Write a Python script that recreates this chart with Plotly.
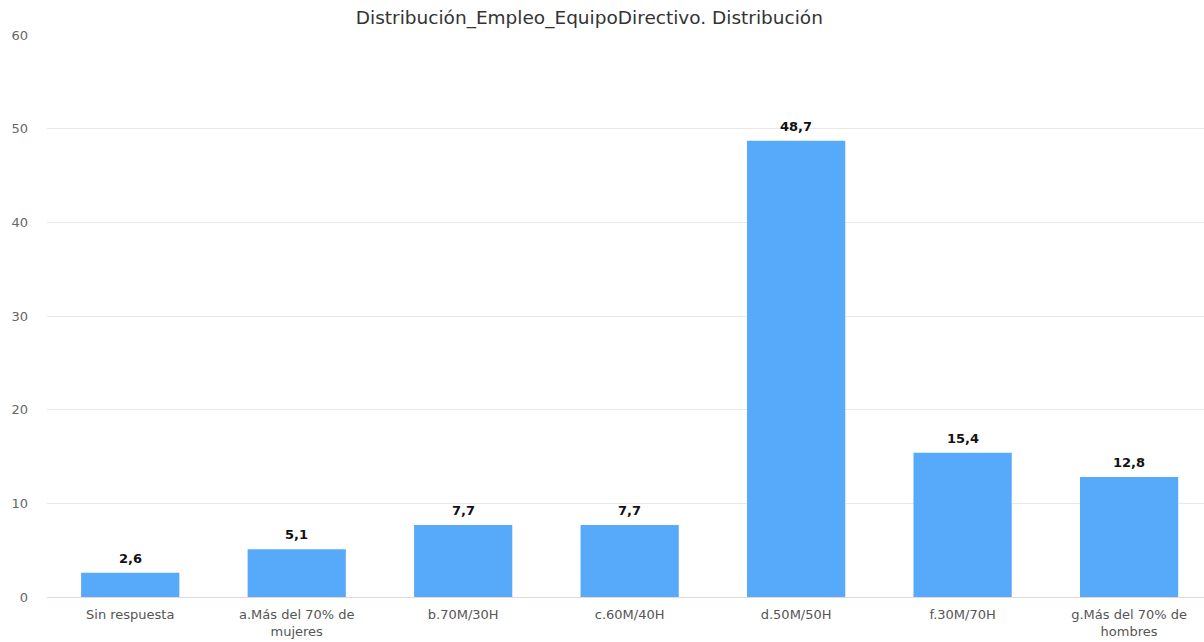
import plotly.graph_objects as go

categories = [
    "Sin respuesta",
    "a.Más del 70% de<br>mujeres",
    "b.70M/30H",
    "c.60M/40H",
    "d.50M/50H",
    "f.30M/70H",
    "g.Más del 70% de<br>hombres",
]
values = [2.6, 5.1, 7.7, 7.7, 48.7, 15.4, 12.8]
value_labels = [f"{v:.1f}".replace(".", ",") for v in values]
y_ticks = [0, 10, 20, 30, 40, 50, 60]

font_family = "DejaVu Sans, Verdana, sans-serif"
positions = list(range(len(categories)))

fig = go.Figure(
    go.Bar(
        x=positions,
        y=values,
        marker=dict(color="#57a9fa", line=dict(width=0)),
        width=0.59,
        hoverinfo="skip",
    )
)

# value labels above each bar
for xi, v, lbl in zip(positions, values, value_labels):
    fig.add_annotation(
        x=xi,
        y=v,
        text=lbl,
        showarrow=False,
        xanchor="center",
        yanchor="bottom",
        yshift=5,
        font=dict(family=font_family, size=13, color="#111111", weight="bold"),
    )

fig.update_layout(
    width=1204,
    height=642,
    margin=dict(l=47, r=0, t=35, b=45),
    paper_bgcolor="white",
    plot_bgcolor="white",
    showlegend=False,
    font=dict(family=font_family, color="#666666", size=13),
    title=dict(
        text="Distribución_Empleo_EquipoDirectivo. Distribución",
        x=0.4895,
        xanchor="center",
        y=1 - 18 / 642,
        yanchor="middle",
        font=dict(family=font_family, size=18.5, color="#333333"),
    ),
    xaxis=dict(
        range=[-0.5, 6.45],
        tickmode="array",
        tickvals=positions,
        ticktext=categories,
        showgrid=False,
        showline=True,
        linecolor="#e6d8d8",
        linewidth=1,
        ticks="",
        ticklabelstandoff=5,
        tickfont=dict(size=13, color="#555555"),
        zeroline=False,
        fixedrange=True,
    ),
    yaxis=dict(
        range=[0, 60],
        tickvals=y_ticks,
        showgrid=True,
        gridcolor="#e9e9e9",
        gridwidth=1,
        zeroline=False,
        showline=False,
        ticks="",
        ticklabelstandoff=18,
        tickfont=dict(size=13, color="#666666"),
        fixedrange=True,
    ),
)

fig.write_html("out.html")
